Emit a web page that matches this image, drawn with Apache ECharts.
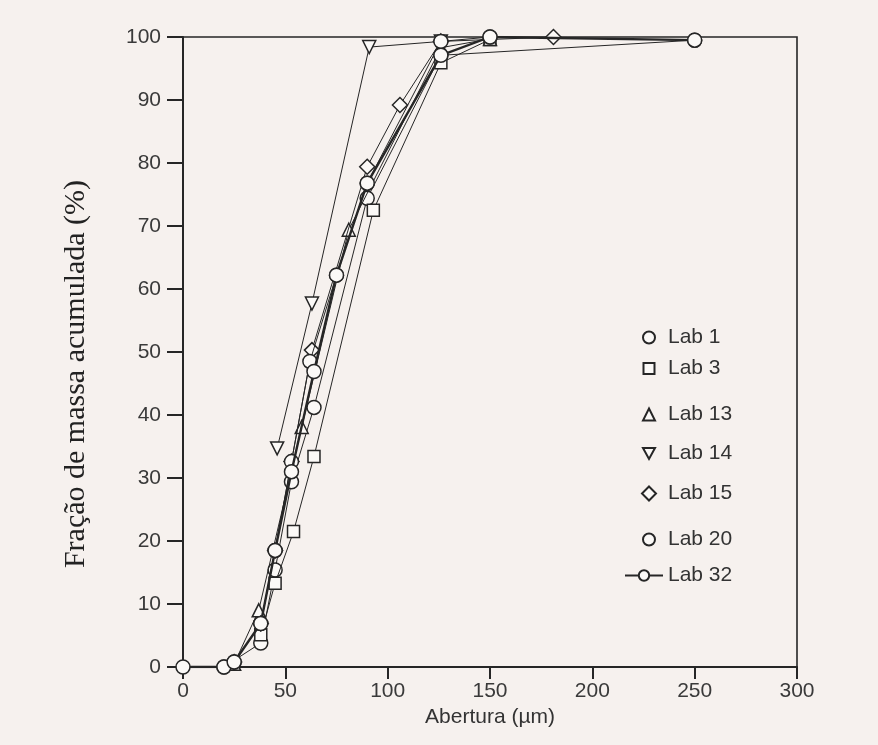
<!DOCTYPE html>
<html><head><meta charset="utf-8">
<script src="https://cdn.jsdelivr.net/npm/echarts@6/dist/echarts.min.js"></script>
<style>html,body{margin:0;padding:0;background:#f6f1ee}#c{width:878px;height:745px}</style>
</head><body><div id="c"></div>
<script>
// ---- data ----
const xTicks = [0, 50, 100, 150, 200, 250, 300];
const yTicks = [0, 10, 20, 30, 40, 50, 60, 70, 80, 90, 100];
const xTitle = 'Abertura (µm)';
const yTitle = 'Fração de massa acumulada (%)';
const seriesNames = ['Lab 1', 'Lab 3', 'Lab 13', 'Lab 14', 'Lab 15', 'Lab 20', 'Lab 32'];

const lab1X = [20, 38, 45, 53, 64, 90, 126, 250];
const lab1Y = [0, 3.8, 15.4, 29.4, 41.2, 74.4, 97.1, 99.5];
const lab3X = [38, 45, 54, 64, 93, 126, 150];
const lab3Y = [5.1, 13.3, 21.5, 33.4, 72.5, 95.9, 99.6];
const lab13X = [25, 37, 58, 81, 126, 150];
const lab13Y = [0.5, 9, 38.1, 69.4, 98.3, 99.7];
const lab14X = [46, 63, 91, 126];
const lab14Y = [34.7, 57.7, 98.4, 99.3];
const lab15X = [25, 38, 45, 53, 63, 90, 106, 126, 181];
const lab15Y = [0.8, 6.9, 18.5, 32.6, 50.3, 79.4, 89.2, 99.3, 100];
const lab20X = [25, 38, 45, 53, 62, 75, 90, 126, 150];
const lab20Y = [0.8, 6.9, 18.5, 32.6, 48.5, 62.2, 76.8, 99.3, 100];
const lab32X = [0, 20, 25, 38, 45, 53, 64, 75, 90, 126, 150, 250];
const lab32Y = [0, 0, 0.8, 6.9, 18.5, 31, 46.9, 62.2, 76.8, 97.1, 100, 99.5];

// ---- build ----
const xs = [lab1X, lab3X, lab13X, lab14X, lab15X, lab20X, lab32X];
const ys = [lab1Y, lab3Y, lab13Y, lab14Y, lab15Y, lab20Y, lab32Y];
const INV_TRI = 'path://M0,0L10,0L5,9Z';
const symbols = ['circle', 'rect', 'triangle', INV_TRI, 'diamond', 'circle', 'circle'];
const symSizes = [14, 12, 13, 13, 15, 14, 14];
const legSizes = [12, 11, 12, 12, 14, 12, 13];
const ink = '#262626';
const fill = '#fbf9f7';
const sans = 'Liberation Sans, Arial, sans-serif';

const series = seriesNames.map((n, i) => ({
  type: 'line',
  name: n,
  data: xs[i].map((x, j) => [x, ys[i][j]]),
  symbol: symbols[i],
  symbolSize: symSizes[i],
  showSymbol: true,
  lineStyle: { color: ink, width: n === 'Lab 32' ? 2.4 : 1 },
  itemStyle: { color: fill, borderColor: ink, borderWidth: 1.5 },
  emphasis: { disabled: true },
  z: 2 + i
}));

const legendCenters = [339, 370, 416, 455, 495, 541, 577];
const legends = seriesNames.map((n, i) => {
  const isLine = n === 'Lab 32';
  return {
    data: [isLine ? { name: n } : { name: n, icon: symbols[i] }],
    left: isLine ? 624 : 648 - legSizes[i] / 2,
    top: legendCenters[i] - 12,
    padding: 0,
    itemWidth: isLine ? 38 : legSizes[i],
    itemHeight: isLine ? 13 : legSizes[i],
    selectedMode: false,
    textStyle: { fontSize: 21, color: '#333', fontFamily: sans,
                 padding: [0, 0, 0, isLine ? 0 : 14 - legSizes[i] / 2] }
  };
});

const chart = echarts.init(document.getElementById('c'), null, { renderer: 'canvas' });
chart.setOption({
  animation: false,
  backgroundColor: '#f6f1ee',
  grid: { left: 183, right: 81, top: 37, bottom: 78, show: true, borderColor: ink, borderWidth: 1.6, backgroundColor: 'transparent' },
  legend: legends,
  xAxis: {
    type: 'value', min: xTicks[0], max: xTicks[xTicks.length - 1], interval: xTicks[1] - xTicks[0],
    name: xTitle, nameLocation: 'middle', nameGap: 40,
    nameTextStyle: { fontSize: 21, color: '#333', fontFamily: sans },
    axisLine: { show: true, lineStyle: { color: ink, width: 2 } },
    axisTick: { show: true, inside: false, length: 12, lineStyle: { color: ink, width: 2 } },
    axisLabel: { fontSize: 21, color: '#3a3a3a', margin: 14, fontFamily: sans },
    splitLine: { show: false }
  },
  yAxis: {
    type: 'value', min: yTicks[0], max: yTicks[yTicks.length - 1], interval: yTicks[1] - yTicks[0],
    name: yTitle, nameLocation: 'middle', nameGap: 92,
    nameTextStyle: { fontSize: 30, color: '#222', fontFamily: 'Liberation Serif, Times New Roman, serif', padding: [0, 44, 0, 0] },
    axisLine: { show: true, lineStyle: { color: ink, width: 2 } },
    axisTick: { show: true, inside: false, length: 16, lineStyle: { color: ink, width: 2 } },
    axisLabel: { fontSize: 21, color: '#3a3a3a', margin: 22, fontFamily: sans },
    splitLine: { show: false }
  },
  series: series
});
</script>
</body></html>
